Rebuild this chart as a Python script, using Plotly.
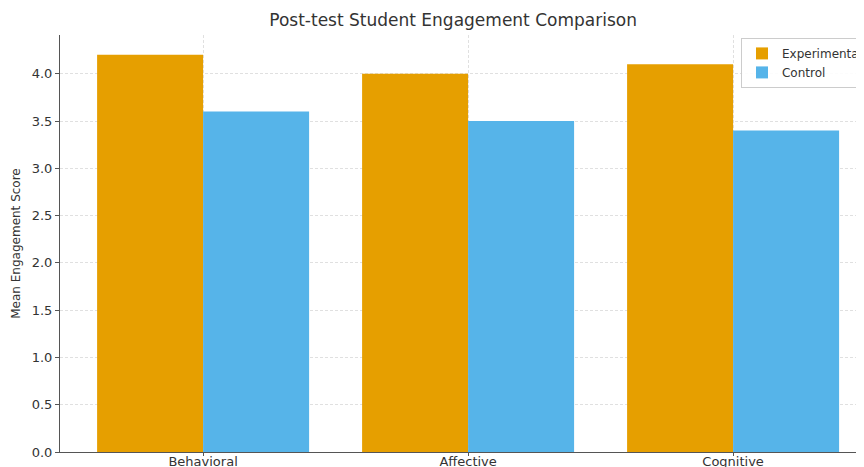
import plotly.graph_objects as go

categories = ["Behavioral", "Affective", "Cognitive"]
experimental = [4.2, 4.0, 4.1]
control = [3.6, 3.5, 3.4]
y_ticks = [0.0, 0.5, 1.0, 1.5, 2.0, 2.5, 3.0, 3.5, 4.0]

fig = go.Figure()
fig.add_trace(go.Bar(x=list(range(len(categories))), y=experimental, name="Experimental",
                     marker=dict(color="#E69F00", line=dict(width=0))))
fig.add_trace(go.Bar(x=list(range(len(categories))), y=control, name="Control",
                     marker=dict(color="#56B4E9", line=dict(width=0))))

# page body has an 8px default margin, so the figure is sized to fit the window
fig.update_layout(
    width=856, height=459,
    margin=dict(l=52, r=0, t=27, b=15, autoexpand=False),
    paper_bgcolor="white", plot_bgcolor="white",
    font=dict(family="DejaVu Sans", color="#333333", size=13),
    title=dict(text="Post-test Student Engagement Comparison", x=0.52, xanchor="center",
               y=0.974, yanchor="middle", font=dict(size=17, color="#333333")),
    barmode="group", bargap=0.2, bargroupgap=0,
    legend=dict(x=0.847, y=0.993, xanchor="left", yanchor="top",
                bgcolor="rgba(255,255,255,0.9)", bordercolor="#cccccc", borderwidth=1,
                font=dict(size=12), itemwidth=30, tracegroupgap=0),
    showlegend=True,
)
fig.update_xaxes(
    tickmode="array", tickvals=list(range(len(categories))), ticktext=categories,
    range=[-0.54, 2.494], automargin=False,
    showgrid=True, gridcolor="#e0e0e0", griddash="3px,2px", gridwidth=1,
    showline=True, linecolor="#555555", linewidth=1,
    ticks="outside", ticklen=3, tickcolor="#555555", ticklabelstandoff=-6,
    tickfont=dict(size=13), zeroline=False,
)
fig.update_yaxes(
    range=[0, 4.41], tickmode="array", tickvals=y_ticks, automargin=False,
    ticktext=[f"{v:.1f}" for v in y_ticks],
    showgrid=True, gridcolor="#e0e0e0", griddash="3px,2px", gridwidth=1,
    showline=True, linecolor="#555555", linewidth=1,
    ticks="outside", ticklen=4, tickcolor="#555555",
    tickfont=dict(size=13), zeroline=False,
    title=dict(text="Mean Engagement Score", font=dict(size=12), standoff=8),
)

fig.write_html("out.html")
